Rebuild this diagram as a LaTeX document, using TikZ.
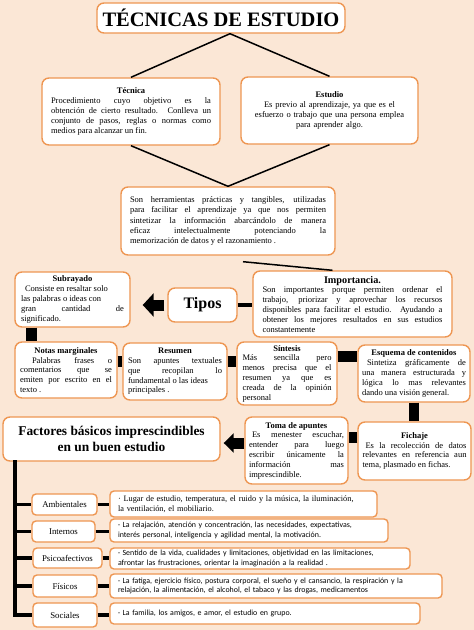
\documentclass[tikz,border=0pt]{standalone}
\usepackage{fontspec}
\setmainfont{Liberation Serif}
\newfontfamily\calibfont{Carlito}
\usetikzlibrary{arrows.meta}
\definecolor{bgpeach}{RGB}{251,231,214}
\definecolor{boxorange}{RGB}{238,150,82}
\newcommand{\boxtitle}[1]{\hfil\textbf{#1}\hfil\null\linebreak}
\begin{document}
\begin{tikzpicture}[x=1pt,y=-1pt,
 box/.style={draw=boxorange, fill=white, line width=1.4pt, rounded corners=7pt, inner sep=0pt, font=\fontsize{8.5}{9.8}\selectfont},
 jbox/.style={box, align=justify},
 cbox/.style={box, align=center},
 catbox/.style={box, rounded corners=4pt, font=\fontsize{8.8}{10}\selectfont},
 descbox/.style={box, rounded corners=4pt, align=left},
 conn/.style={draw=black, line width=1.5pt},
 bar/.style={draw=black, line width=11pt},
 thinbar/.style={draw=black, line width=3.5pt},
 blockarrow/.style={draw=black, line width=11pt, -{Triangle[length=11pt,width=23pt]}}
]
\useasboundingbox (0,0) rectangle (474,630);
\fill[bgpeach] (0,0) rectangle (474,630);

% title
\node[box, minimum width=248pt, minimum height=30pt, font=\fontsize{20.5}{24}\selectfont\bfseries] (title) at (221,18) {TÉCNICAS DE ESTUDIO};

% level 1
\node[jbox, minimum width=178pt, minimum height=67pt, text width=160pt] (tec) at (131,111.5)
 {\boxtitle{Técnica}Procedimiento cuyo objetivo es la\linebreak obtención de cierto resultado. Conlleva un\linebreak conjunto de pasos, reglas o normas como\linebreak medios para alcanzar un fin.};
\node[cbox, minimum width=177pt, minimum height=67pt, text width=160pt] (est) at (329.5,110.5)
 {\textbf{Estudio}\\ Es previo al aprendizaje, ya que es el\\ esfuerzo o trabajo que una persona emplea\\ para aprender algo.};

% middle
\node[jbox, minimum width=214pt, minimum height=68pt, text width=196pt, font=\fontsize{8.5}{10.3}\selectfont] (mid) at (228,221)
 {Son herramientas prácticas y tangibles, utilizadas\linebreak para facilitar el aprendizaje ya que nos permiten\linebreak sintetizar la información abarcándolo de manera\linebreak eficaz intelectualmente potenciando la\linebreak memorización de datos y el razonamiento .};

% importancia
\node[jbox, minimum width=199pt, minimum height=66pt, text width=180pt] (imp) at (352.5,304)
 {\hfil{\fontsize{10.2}{12}\selectfont\bfseries Importancia.}\hfil\null\linebreak Son importantes porque permiten ordenar el\linebreak trabajo, priorizar y aprovechar los recursos\linebreak disponibles para facilitar el estudio. Ayudando a\linebreak obtener los mejores resultados en sus estudios\linebreak constantemente};

% tipos
\node[box, minimum width=69pt, minimum height=34pt, font=\fontsize{16}{19}\selectfont\bfseries] (tipos) at (202.5,305) {Tipos};

% types
\node[jbox, minimum width=115pt, minimum height=55pt, text width=103pt] (sub) at (72.5,299.5)
 {\boxtitle{Subrayado}\hspace*{4pt}Consiste en resaltar solo\\ las palabras o ideas con\\ gran cantidad de\linebreak significado.};
\node[jbox, minimum width=102pt, minimum height=56pt, text width=92pt] (notas) at (66,370)
 {\boxtitle{Notas marginales}\hspace*{12pt}Palabras frases o\linebreak comentarios que se\linebreak emiten por escrito en el\linebreak texto .};
\node[jbox, minimum width=104pt, minimum height=57pt, text width=94pt] (res) at (175,371.5)
 {\boxtitle{Resumen}Son apuntes textuales\linebreak que recopilan lo\linebreak fundamental o las ideas\\ principales .};
\node[jbox, minimum width=100pt, minimum height=63pt, text width=89pt] (sin) at (287,373.5)
 {\boxtitle{Síntesis}Más sencilla pero\linebreak menos precisa que el\linebreak resumen ya que es\linebreak creada de la opinión\linebreak personal};
\node[jbox, minimum width=112pt, minimum height=57pt, text width=104pt] (esq) at (414,373.5)
 {\boxtitle{Esquema de contenidos}\hspace*{5pt}Sintetiza gráficamente de\linebreak una manera estructurada y\linebreak lógica lo mas relevantes\linebreak dando una visión general.};
\node[jbox, minimum width=113pt, minimum height=58pt, text width=104pt] (fich) at (414.5,451)
 {\boxtitle{Fichaje}\hspace*{3pt}Es la recolección de datos\linebreak relevantes en referencia aun\linebreak tema, plasmado en fichas.};
\node[jbox, minimum width=103pt, minimum height=67pt, text width=95pt] (toma) at (296.5,450.5)
 {\boxtitle{Toma de apuntes}\hspace*{3pt}Es menester escuchar,\linebreak entender para luego\linebreak escribir únicamente la\linebreak información mas\linebreak imprescindible.};

% factores
\node[cbox, minimum width=217pt, minimum height=44pt, font=\fontsize{13.4}{16.5}\selectfont\bfseries] (fact) at (111.5,439)
 {Factores básicos imprescindibles\\ en un buen estudio};

% categories
\node[catbox, minimum width=65pt, minimum height=21pt] (amb) at (64.5,504.5) {Ambientales};
\node[catbox, minimum width=63pt, minimum height=21pt] (int) at (63.5,531.5) {Internos};
\node[catbox, minimum width=69pt, minimum height=20pt] (psi) at (67.5,558) {Psicoafectivos};
\node[catbox, minimum width=64pt, minimum height=22pt] (fis) at (65,586) {Físicos};
\node[catbox, minimum width=64pt, minimum height=24pt] (soc) at (65,615) {Sociales};

% descriptions
\node[descbox, minimum width=267pt, minimum height=26pt, text width=251pt, font=\fontsize{8.3}{10}\selectfont] (damb) at (243.5,504)
 {· Lugar de estudio, temperatura, el ruido y la música, la iluminación,\\ la ventilación, el mobiliario.};
\node[descbox, minimum width=278pt, minimum height=23pt, text width=262pt, font=\calibfont\fontsize{7.9}{9.6}\selectfont] (dint) at (249,530.5)
 {· La relajación, atención y concentración, las necesidades, expectativas,\\ interés personal, inteligencia y agilidad mental, la motivación.};
\node[descbox, minimum width=300pt, minimum height=21pt, text width=284pt, font=\calibfont\fontsize{7.9}{9.6}\selectfont] (dpsi) at (260,558.5)
 {· Sentido de la vida, cualidades y limitaciones, objetividad en las limitaciones,\\ afrontar las frustraciones, orientar la imaginación a la realidad .};
\node[descbox, minimum width=332pt, minimum height=24pt, text width=316pt, font=\calibfont\fontsize{7.9}{9.6}\selectfont] (dfis) at (276,586)
 {· La fatiga, ejercicio físico, postura corporal, el sueño y el cansancio, la respiración y la\\ relajación, la alimentación, el alcohol, el tabaco y las drogas, medicamentos};
\node[descbox, minimum width=310pt, minimum height=21pt, text width=294pt, font=\calibfont\fontsize{7.9}{9.6}\selectfont] (dsoc) at (265,613.5)
 {· La familia, los amigos, e amor, el estudio en grupo.};

% connectors
\draw[conn] ([xshift=9pt]title.south) -- (tec.north);
\draw[conn] ([xshift=9pt]title.south) -- (est.north);
\draw[conn] (tec.south) -- (mid.north);
\draw[conn] (est.south) -- (mid.north);
\draw[conn] ([xshift=15pt,yshift=-6pt]mid.south) -- ([xshift=-20pt]imp.north);
\draw[thinbar] (tipos.east) -- (imp.west |- tipos.east);
\draw[blockarrow, shorten >=12pt, shorten <=3pt] (tipos.west) -- (sub.east |- tipos.west);

\coordinate (vx) at (31,0);
\draw[bar] (sub.south -| vx) -- (notas.north -| vx);
\coordinate (r1) at (0,361);
\draw[bar] (notas.east |- r1) -- (res.west |- r1);
\draw[bar] (res.east |- r1) -- (sin.west |- r1);
\coordinate (r2) at (0,356);
\draw[bar] (sin.east |- r2) -- (esq.west |- r2);
\draw[bar, line width=10pt] (esq.south) -- (fich.north -| esq.south);
\coordinate (r3) at (0,437);
\draw[bar] (fich.west |- r3) -- (toma.east |- r3);
\coordinate (r4) at (0,443);
\draw[draw=black, line width=11pt, -{Triangle[length=10pt,width=19pt]}, shorten >=3pt] (toma.west |- r4) -- (fact.east |- r4);

\coordinate (sp) at (15,0);
\draw[thinbar, line cap=rect] (fact.south -| sp) -- (soc.west -| sp);
\foreach \c in {amb,int,psi,fis,soc} {
  \draw[thinbar] (\c.west -| sp) -- (\c.west);
  \draw[thinbar] (\c.east) -- (d\c.west |- \c.east);
}
\end{tikzpicture}
\end{document}
